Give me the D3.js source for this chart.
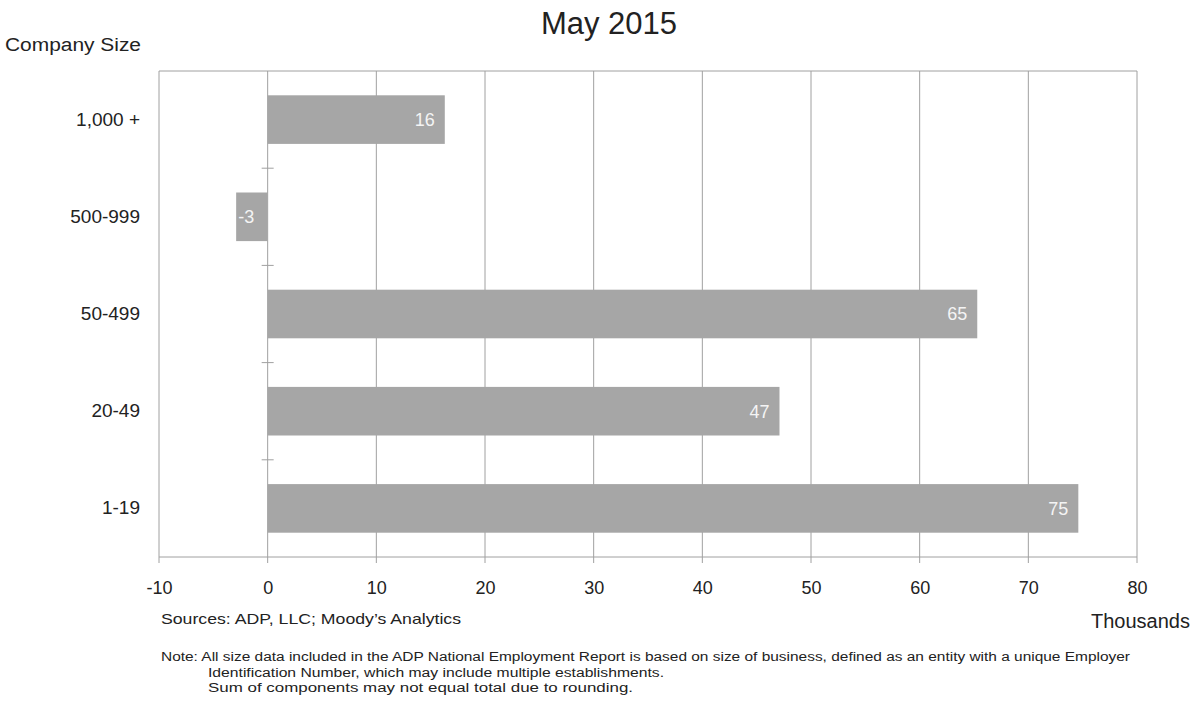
<!DOCTYPE html>
<html>
<head>
<meta charset="utf-8">
<script src="https://cdn.jsdelivr.net/npm/d3@7"></script>
<style>
  body { margin: 0; background: #fff; }
  text { font-family: "Liberation Sans", Arial, sans-serif; }
</style>
</head>
<body>
<div id="chart"></div>
<script>
// data
const categories = ["1,000 +", "500-999", "50-499", "20-49", "1-19"];
const values = [16.3, -2.9, 65.3, 47.1, 74.6];
const labels = ["16", "-3", "65", "47", "75"];
const xTicks = [-10, 0, 10, 20, 30, 40, 50, 60, 70, 80];

const width = 1196, height = 702;
const margin = {top: 71, right: 59, bottom: 145, left: 159};

const svg = d3.select("#chart").append("svg")
  .attr("width", width).attr("height", height);

const x = d3.scaleLinear()
  .domain([-10, 80])
  .range([margin.left, width - margin.right]);

const y = d3.scaleBand()
  .domain(categories)
  .range([margin.top, height - margin.bottom])
  .paddingInner(0.5)
  .paddingOuter(0.25);

const grid = "#a0a0a0";

// gridlines
svg.append("g")
  .selectAll("line")
  .data(xTicks)
  .join("line")
    .attr("x1", d => x(d)).attr("x2", d => x(d))
    .attr("y1", margin.top).attr("y2", height - margin.bottom + 6)
    .attr("stroke", grid).attr("stroke-width", 1);

svg.append("line")
  .attr("x1", x(-10)).attr("x2", x(80))
  .attr("y1", margin.top).attr("y2", margin.top)
  .attr("stroke", grid);
svg.append("line")
  .attr("x1", x(-10)).attr("x2", x(80))
  .attr("y1", height - margin.bottom).attr("y2", height - margin.bottom)
  .attr("stroke", grid);

// bars
svg.append("g")
  .selectAll("rect")
  .data(values)
  .join("rect")
    .attr("x", d => x(Math.min(0, d)))
    .attr("y", (d, i) => y(categories[i]))
    .attr("width", d => Math.abs(x(d) - x(0)))
    .attr("height", y.bandwidth())
    .attr("fill", "#a6a6a6");

// category separators on the zero line
const step = y.step();
svg.append("g")
  .selectAll("line")
  .data(categories.slice(1))
  .join("line")
    .attr("x1", x(0) - 6).attr("x2", x(0) + 6)
    .attr("y1", d => y(d) - step * 0.25)
    .attr("y2", d => y(d) - step * 0.25)
    .attr("stroke", grid);

// value labels
svg.append("g")
  .selectAll("text")
  .data(values)
  .join("text")
    .attr("x", d => d < 0 ? x(d) + 2 : x(d) - 10)
    .attr("y", (d, i) => y(categories[i]) + y.bandwidth() / 2)
    .attr("dy", "0.35em")
    .attr("text-anchor", d => d < 0 ? "start" : "end")
    .attr("fill", "#f4f4f4")
    .attr("font-size", 18)
    .text((d, i) => labels[i]);

// y labels
svg.append("g")
  .attr("transform", `translate(${margin.left}, 0)`)
  .call(d3.axisLeft(y).tickSize(0).tickPadding(19))
  .call(g => g.select(".domain").remove())
  .call(g => g.selectAll("text")
    .attr("font-size", 19).attr("fill", "#222")
    .attr("font-family", "Liberation Sans, Arial, sans-serif"));

// x labels
svg.append("g")
  .attr("transform", `translate(0, ${height - margin.bottom})`)
  .call(d3.axisBottom(x).tickValues(xTicks).tickFormat(d => String(d))
    .tickSize(0).tickPadding(24))
  .call(g => g.select(".domain").remove())
  .call(g => g.selectAll("text")
    .attr("font-size", 18).attr("fill", "#222")
    .attr("font-family", "Liberation Sans, Arial, sans-serif"));

// titles
svg.append("text")
  .attr("x", 609).attr("y", 34)
  .attr("text-anchor", "middle")
  .attr("font-size", 31).attr("fill", "#222")
  .text("May 2015");

svg.append("text")
  .attr("x", 5).attr("y", 51)
  .attr("font-size", 18).attr("fill", "#222")
  .attr("textLength", 136).attr("lengthAdjust", "spacingAndGlyphs")
  .text("Company Size");

svg.append("text")
  .attr("x", 1190).attr("y", 628)
  .attr("text-anchor", "end")
  .attr("font-size", 20).attr("fill", "#222")
  .text("Thousands");

svg.append("text")
  .attr("x", 161).attr("y", 624)
  .attr("font-size", 15).attr("fill", "#222")
  .attr("textLength", 300).attr("lengthAdjust", "spacingAndGlyphs")
  .text("Sources: ADP, LLC; Moody\u2019s Analytics");

const note = svg.append("g").attr("font-size", 12).attr("fill", "#222");
note.append("text").attr("x", 161).attr("y", 661)
  .attr("textLength", 969).attr("lengthAdjust", "spacingAndGlyphs")
  .text("Note:  All size data included in the ADP National Employment Report is based on size of business, defined as an entity with a unique Employer");
note.append("text").attr("x", 208).attr("y", 677)
  .attr("textLength", 456).attr("lengthAdjust", "spacingAndGlyphs")
  .text("Identification Number, which may include multiple establishments.");
note.append("text").attr("x", 208).attr("y", 692)
  .attr("textLength", 425).attr("lengthAdjust", "spacingAndGlyphs")
  .text("Sum of components may not equal total due to rounding.");
</script>
</body>
</html>
